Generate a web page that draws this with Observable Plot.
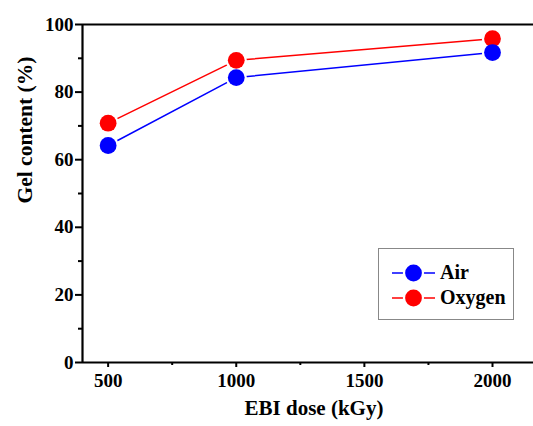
<!DOCTYPE html>
<html>
<head>
<meta charset="utf-8">
<script src="https://cdn.jsdelivr.net/npm/d3@7"></script>
<script src="https://cdn.jsdelivr.net/npm/@observablehq/plot@0.6"></script>
<style>
  html, body { margin: 0; padding: 0; background: #fff; }
  #wrap { position: relative; width: 533px; height: 426px; font-family: "Liberation Serif", "Times New Roman", serif; }
  #wrap svg text { font-family: "Liberation Serif", "Times New Roman", serif; }
  #legend { position: absolute; left: 378px; top: 248px; width: 136px; height: 72px; border: 1px solid #888; background: #fff; box-sizing: border-box; padding-top: 11px; }
  .item { display: flex; align-items: center; height: 25px; padding-left: 13px; }
  .item span { font-weight: bold; font-size: 20px; margin-left: 5px; color: #000; }
</style>
</head>
<body>
<div id="wrap"></div>
<script>
const doses = [500, 1000, 2000];
const seriesNames = ["Air", "Oxygen"];
const seriesColors = ["#0000ff", "#ff0000"];
const airValues = [64.2, 84.3, 91.7];
const oxygenValues = [70.8, 89.4, 95.8];
const yMajorTicks = [0, 20, 40, 60, 80, 100];
const yMinorTicks = [10, 30, 50, 70, 90];
const xMajorTicks = [500, 1000, 1500, 2000];
const xMinorTicks = [750, 1250, 1750];

const rows = [];
doses.forEach((d, i) => rows.push({dose: d, value: airValues[i], series: "Air"}));
doses.forEach((d, i) => rows.push({dose: d, value: oxygenValues[i], series: "Oxygen"}));
const air = rows.filter(r => r.series === "Air");
const oxy = rows.filter(r => r.series === "Oxygen");

const font = {fontFamily: "'Liberation Serif', serif", fontWeight: "bold"};

const chart = Plot.plot({
  width: 533,
  height: 426,
  marginLeft: 82,
  marginRight: 0,
  marginTop: 24,
  marginBottom: 64,
  style: {fontFamily: "'Liberation Serif', serif", background: "#fff", overflow: "visible"},
  x: {domain: [400, 2160]},
  y: {domain: [0, 100]},
  color: {domain: seriesNames, range: seriesColors},
  marks: [
    Plot.ruleY([0, 100], {stroke: "#000", strokeWidth: 2.2}),
    Plot.ruleX([400], {stroke: "#000", strokeWidth: 2.2}),
    Plot.axisY({ticks: yMajorTicks, tickSize: 7, tickPadding: 2, strokeWidth: 2, fontSize: 19, ...font, label: null, color: "#000"}),
    Plot.axisY({ticks: yMinorTicks, tickSize: 4, text: null, strokeWidth: 2, label: null}),
    Plot.axisX({ticks: xMajorTicks, tickSize: 5, tickPadding: 6, strokeWidth: 2, fontSize: 19, ...font, tickFormat: d3.format("d"), label: null, color: "#000"}),
    Plot.axisX({ticks: xMinorTicks, tickSize: 3, text: null, strokeWidth: 2, label: null}),
    Plot.line(rows, {x: "dose", y: "value", z: "series", stroke: "series", strokeWidth: 1.5}),
    Plot.dot(rows, {x: "dose", y: "value", r: 10.6, fill: "#fff", stroke: "none"}),
    Plot.dot(oxy, {x: "dose", y: "value", r: 8.4, fill: "series", stroke: "none"}),
    Plot.dot(air, {x: "dose", y: "value", r: 8.4, fill: "series", stroke: "none"}),
    Plot.text(["Gel content (%)"], {frameAnchor: "left", rotate: -90, dx: -57, dy: 10, fontSize: 21.5, ...font, fill: "#000"}),
    Plot.text(["EBI dose (kGy)"], {frameAnchor: "bottom", dx: 6, dy: 52, fontSize: 21, ...font, fill: "#000"})
  ]
});

const wrap = document.getElementById("wrap");
wrap.appendChild(chart);

const legend = document.createElement("div");
legend.id = "legend";
seriesNames.forEach((name, i) => {
  const item = document.createElement("div");
  item.className = "item";
  item.innerHTML = `<svg width="43" height="20"><line x1="0" y1="10" x2="43" y2="10" stroke="${seriesColors[i]}" stroke-width="1.5"/><circle cx="21.5" cy="10" r="10.6" fill="#fff"/><circle cx="21.5" cy="10" r="8.4" fill="${seriesColors[i]}"/></svg><span>${name}</span>`;
  legend.appendChild(item);
});
wrap.appendChild(legend);
</script>
</body>
</html>
